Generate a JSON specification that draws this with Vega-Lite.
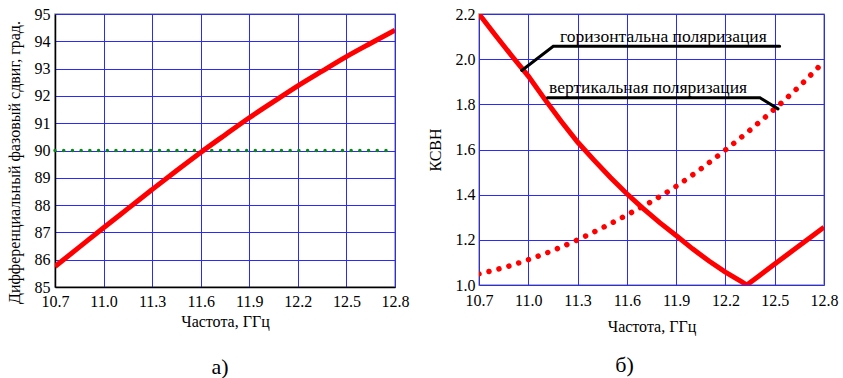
{
  "$schema": "https://vega.github.io/schema/vega-lite/v6.json",
  "padding": {"left": 5, "top": 5, "right": 5, "bottom": 5},
  "background": "white",
  "bounds": "flush",
  "spacing": 84,
  "config": {
    "font": "Liberation Serif",
    "view": {"stroke": "#999999", "strokeWidth": 1.5},
    "axis": {
      "labelFont": "Liberation Serif", "titleFont": "Liberation Serif",
      "labelFontSize": 16, "titleFontSize": 16, "labelColor": "black", "titleColor": "black",
      "titleFontWeight": "normal", "ticks": false, "gridColor": "#2a2aff", "gridWidth": 1, "gridOpacity": 1,
      "domainColor": "black", "domainWidth": 1.5
    },
    "text": {"font": "Liberation Serif"},
    "title": {"font": "Liberation Serif", "fontSize": 22, "fontWeight": "normal", "color": "black"}
  },
  "datasets": {
    "phase": [
      {"f": 10.7, "v": 85.75}, {"f": 10.85, "v": 86.46}, {"f": 11.0, "v": 87.17}, {"f": 11.15, "v": 87.87},
      {"f": 11.3, "v": 88.57}, {"f": 11.45, "v": 89.26}, {"f": 11.6, "v": 89.93}, {"f": 11.75, "v": 90.57},
      {"f": 11.9, "v": 91.2}, {"f": 12.05, "v": 91.79}, {"f": 12.2, "v": 92.37}, {"f": 12.35, "v": 92.91},
      {"f": 12.5, "v": 93.44}, {"f": 12.65, "v": 93.93}, {"f": 12.8, "v": 94.41}
    ],
    "ref": [{"f": 10.7, "v": 90}, {"f": 12.75, "v": 90}],
    "hpol": [
      {"f": 10.7, "v": 2.2}, {"f": 10.8, "v": 2.106}, {"f": 10.9, "v": 2.014}, {"f": 11.0, "v": 1.925},
      {"f": 11.1, "v": 1.823}, {"f": 11.2, "v": 1.725}, {"f": 11.3, "v": 1.633}, {"f": 11.4, "v": 1.553},
      {"f": 11.5, "v": 1.476}, {"f": 11.6, "v": 1.404}, {"f": 11.7, "v": 1.338}, {"f": 11.8, "v": 1.276},
      {"f": 11.9, "v": 1.219}, {"f": 12.0, "v": 1.16}, {"f": 12.1, "v": 1.106}, {"f": 12.2, "v": 1.057},
      {"f": 12.3, "v": 1.014}, {"f": 12.33, "v": 1.0}, {"f": 12.4, "v": 1.038}, {"f": 12.5, "v": 1.093},
      {"f": 12.6, "v": 1.147}, {"f": 12.7, "v": 1.202}, {"f": 12.8, "v": 1.256}
    ],
    "vpol": [
      {"f": 10.7, "v": 1.049}, {"f": 10.85, "v": 1.077}, {"f": 11.0, "v": 1.112}, {"f": 11.15, "v": 1.153},
      {"f": 11.3, "v": 1.2}, {"f": 11.45, "v": 1.253}, {"f": 11.6, "v": 1.31}, {"f": 11.75, "v": 1.37},
      {"f": 11.9, "v": 1.437}, {"f": 12.05, "v": 1.514}, {"f": 12.2, "v": 1.598}, {"f": 12.35, "v": 1.686},
      {"f": 12.5, "v": 1.78}, {"f": 12.65, "v": 1.88}, {"f": 12.8, "v": 1.99}
    ],
    "leaders": [
      {"g": "h", "o": 1, "f": 10.96, "v": 1.95}, {"g": "h", "o": 2, "f": 11.152, "v": 2.057}, {"g": "h", "o": 3, "f": 12.53, "v": 2.057},
      {"g": "v", "o": 1, "f": 11.116, "v": 1.829}, {"g": "v", "o": 2, "f": 12.41, "v": 1.829}, {"g": "v", "o": 3, "f": 12.52, "v": 1.78}
    ],
    "labels": [
      {"f": 11.193, "v": 2.076, "t": "горизонтальна поляризация"},
      {"f": 11.126, "v": 1.851, "t": "вертикальная поляризация"}
    ]
  },
  "hconcat": [
    {
      "width": 340, "height": 273,
      "title": {"text": "а)", "orient": "bottom", "offset": 28, "dx": -5},
      "encoding": {
        "x": {"field": "f", "type": "quantitative", "scale": {"domain": [10.7, 12.8], "nice": false, "zero": false},
              "axis": {"values": [10.7, 11.0, 11.3, 11.6, 11.9, 12.2, 12.5, 12.8], "format": ".1f", "title": "Частота, ГГц", "labelPadding": 6, "titlePadding": 4, "labelFlush": false}},
        "y": {"field": "v", "type": "quantitative", "scale": {"domain": [85, 95], "nice": false, "zero": false},
              "axis": {"values": [85, 86, 87, 88, 89, 90, 91, 92, 93, 94, 95], "title": "Дифференциальный фазовый сдвиг, град.", "labelPadding": 5, "titlePadding": 12, "titleY": 148, "labelFlush": false}}
      },
      "layer": [
        {"data": {"name": "ref"}, "mark": {"type": "line", "color": "#0a8a0a", "strokeWidth": 3.5, "strokeDash": [0.01, 8.7], "strokeCap": "round"}},
        {"data": {"name": "phase"}, "mark": {"type": "line", "color": "#ff0000", "strokeWidth": 5, "interpolate": "monotone", "clip": true}}
      ]
    },
    {
      "width": 345, "height": 271,
      "title": {"text": "б)", "orient": "bottom", "offset": 21, "dx": -27},
      "encoding": {
        "x": {"field": "f", "type": "quantitative", "scale": {"domain": [10.7, 12.8], "nice": false, "zero": false},
              "axis": {"values": [10.7, 11.0, 11.3, 11.6, 11.9, 12.2, 12.5, 12.8], "format": ".1f", "title": "Частота, ГГц", "labelPadding": 7, "titlePadding": 10, "labelFlush": false, "domain": false}},
        "y": {"field": "v", "type": "quantitative", "scale": {"domain": [1.0, 2.2], "nice": false, "zero": false},
              "axis": {"values": [1.0, 1.2, 1.4, 1.6, 1.8, 2.0, 2.2], "format": ".1f", "title": "КСВН", "labelPadding": 4, "titlePadding": 12, "labelFlush": false, "domain": false}}
      },
      "layer": [
        {"data": {"name": "vpol"}, "mark": {"type": "line", "color": "#ff0000", "strokeWidth": 5.5, "strokeDash": [0.01, 10.3], "strokeCap": "round", "interpolate": "monotone", "clip": true}},
        {"data": {"name": "hpol"}, "mark": {"type": "line", "color": "#ff0000", "strokeWidth": 5, "clip": true}},
        {"data": {"name": "leaders"}, "mark": {"type": "line", "color": "black", "strokeWidth": 3, "strokeCap": "round"},
         "encoding": {"detail": {"field": "g"}, "order": {"field": "o"}}},
        {"data": {"name": "labels"}, "mark": {"type": "text", "align": "left", "baseline": "alphabetic", "fontSize": 17.5, "font": "Liberation Serif", "color": "black"},
         "encoding": {"text": {"field": "t"}}}
      ]
    }
  ]
}
